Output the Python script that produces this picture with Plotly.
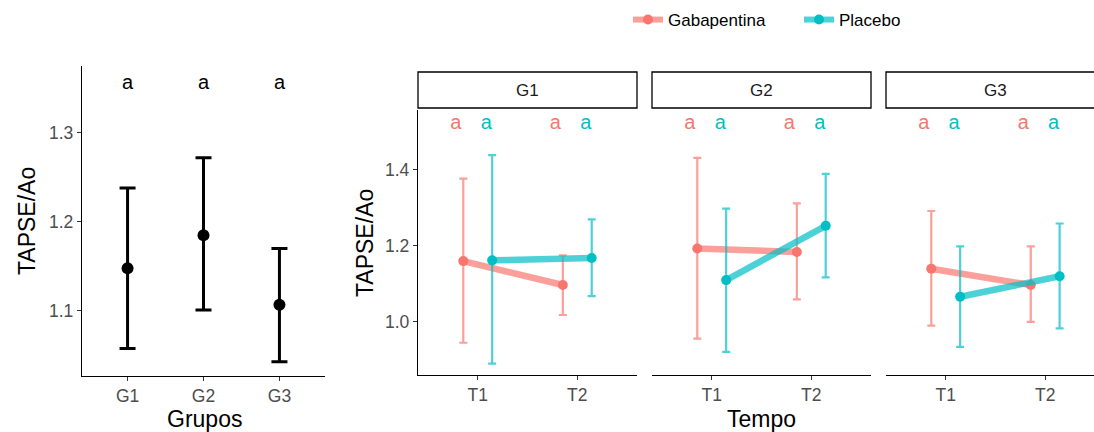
import plotly.graph_objects as go

# ---------------- data ----------------
groups = ["G1", "G2", "G3"]
overall_mean = [1.148, 1.185, 1.107]
overall_upper = [1.238, 1.272, 1.170]
overall_lower = [1.058, 1.101, 1.043]
overall_letters = ["a", "a", "a"]

times = ["T1", "T2"]
treatments = ["Gabapentina", "Placebo"]

# per group: [T1, T2]
gab_mean = {"G1": [1.160, 1.097], "G2": [1.193, 1.184], "G3": [1.140, 1.097]}
gab_upper = {"G1": [1.377, 1.175], "G2": [1.432, 1.312], "G3": [1.292, 1.199]}
gab_lower = {"G1": [0.945, 1.018], "G2": [0.956, 1.059], "G3": [0.990, 1.000]}

pla_mean = {"G1": [1.162, 1.168], "G2": [1.110, 1.253], "G3": [1.066, 1.120]}
pla_upper = {"G1": [1.439, 1.270], "G2": [1.298, 1.390], "G3": [1.199, 1.259]}
pla_lower = {"G1": [0.890, 1.068], "G2": [0.921, 1.117], "G3": [0.934, 0.983]}

gab_letters = {"G1": ["a", "a"], "G2": ["a", "a"], "G3": ["a", "a"]}
pla_letters = {"G1": ["a", "a"], "G2": ["a", "a"], "G3": ["a", "a"]}

# ---------------- style ----------------
FONT = "Liberation Sans, Arial, sans-serif"
RED = "#F8766D"
CYAN = "#00BFC4"
RED_A = "rgba(248,118,109,0.7)"
CYAN_A = "rgba(0,191,196,0.7)"
TICKC = "#4D4D4D"
W, H = 1094, 432
TICK_SIZE = 17.5
TITLE_SIZE = 23
LETTER_SIZE = 20

fig = go.Figure()

# ---------- left panel ----------
gx = list(range(1, len(groups) + 1))
fig.add_trace(go.Scatter(
    x=gx, y=overall_mean, mode="markers",
    marker=dict(color="black", size=12),
    error_y=dict(type="data", symmetric=False,
                 array=[u - m for u, m in zip(overall_upper, overall_mean)],
                 arrayminus=[m - l for m, l in zip(overall_mean, overall_lower)],
                 color="black", thickness=3, width=8),
    xaxis="x", yaxis="y", showlegend=False, hoverinfo="skip"))
fig.add_trace(go.Scatter(
    x=gx, y=[1.355] * len(groups), mode="text", text=overall_letters,
    textfont=dict(family=FONT, size=LETTER_SIZE, color="black"),
    xaxis="x", yaxis="y", showlegend=False, hoverinfo="skip"))

# ---------- facet panels ----------
dodge = 0.145
tx = [1, 2]
for i, g in enumerate(groups):
    xa = "x%d" % (i + 2)
    ya = "y%d" % (i + 2)
    for tr, means, up, lo, col, cola, off, letters, loff in [
        ("Gabapentina", gab_mean[g], gab_upper[g], gab_lower[g], RED, RED_A, -dodge, gab_letters[g], -0.22),
        ("Placebo", pla_mean[g], pla_upper[g], pla_lower[g], CYAN, CYAN_A, dodge, pla_letters[g], 0.085),
    ]:
        xs = [t + off for t in tx]
        fig.add_trace(go.Scatter(
            x=xs, y=means, mode="lines", line=dict(color=cola, width=6.5),
            xaxis=xa, yaxis=ya, showlegend=False, hoverinfo="skip"))
        fig.add_trace(go.Scatter(
            x=xs, y=means, mode="markers",
            marker=dict(color=col, size=10),
            error_y=dict(type="data", symmetric=False,
                         array=[u - m for u, m in zip(up, means)],
                         arrayminus=[m - l for m, l in zip(means, lo)],
                         color=cola, thickness=2.2, width=4),
            xaxis=xa, yaxis=ya, showlegend=False, hoverinfo="skip"))
        fig.add_trace(go.Scatter(
            x=[t + loff for t in tx], y=[1.522, 1.522], mode="text", text=letters,
            textfont=dict(family=FONT, size=LETTER_SIZE, color=col),
            xaxis=xa, yaxis=ya, showlegend=False, hoverinfo="skip"))

# legend entries
for tr, col, cola in [("Gabapentina", RED, RED_A), ("Placebo", CYAN, CYAN_A)]:
    fig.add_trace(go.Scatter(
        x=[None], y=[None], mode="lines+markers", name=tr,
        line=dict(color=cola, width=6), marker=dict(color=col, size=10),
        xaxis="x2", yaxis="y2", showlegend=True))

# ---------- axes ----------
def px_x(p):
    return p / W

def px_y(p):
    return 1 - p / H

axis_common = dict(showline=True, linecolor="black", linewidth=1.3,
                   ticks="outside", ticklen=4, tickcolor="#333333", tickwidth=1,
                   showgrid=False, zeroline=False,
                   tickfont=dict(family=FONT, size=TICK_SIZE, color=TICKC))

fig.update_layout(
    xaxis=dict(domain=[px_x(82), px_x(325)], range=[0.4, 3.6],
               tickvals=gx, ticktext=groups, anchor="y", **axis_common),
    yaxis=dict(domain=[px_y(376), px_y(66)], range=[1.027, 1.375],
               tickvals=[1.1, 1.2, 1.3], ticktext=["1.1", "1.2", "1.3"],
               anchor="x", **axis_common),
)

panel_px = [(418, 637), (652, 871), (886, 1094)]
y_dom = [px_y(375), px_y(110)]
for i, (a, b) in enumerate(panel_px):
    n = i + 2
    right = 2.6 if b - a >= 219 else 0.4 + (b - a) / 99.5
    fig.layout["xaxis%d" % n] = dict(domain=[px_x(a), min(px_x(b), 1.0)],
                                      range=[0.4, right], tickvals=tx, ticktext=times,
                                      anchor="y%d" % n, **axis_common)
    ydict = dict(domain=y_dom, range=[0.86, 1.558], anchor="x%d" % n,
                 tickvals=[1.0, 1.2, 1.4], ticktext=["1.0", "1.2", "1.4"],
                 **axis_common)
    if i > 0:
        ydict.update(showline=False, showticklabels=False, ticks="", matches="y2")
    fig.layout["yaxis%d" % n] = ydict
    fig.add_shape(type="rect", xref="paper", yref="paper",
                  x0=px_x(a), x1=min(px_x(b), 1.0) + (0.01 if b >= 1094 else 0),
                  y0=px_y(108), y1=px_y(72),
                  line=dict(color="black", width=1.3), fillcolor="white", layer="below")
    fig.add_annotation(x=(px_x(a) + px_x(a + 219)) / 2, y=px_y(90), xref="paper", yref="paper",
                       xanchor="center", yanchor="middle",
                       text=groups[i], showarrow=False,
                       font=dict(family=FONT, size=17, color="#1A1A1A"))

# axis titles
def title_ann(x, y, text, angle=0):
    fig.add_annotation(x=px_x(x), y=px_y(y), xref="paper", yref="paper", text=text,
                       textangle=angle, showarrow=False, xanchor="center", yanchor="middle",
                       font=dict(family=FONT, size=TITLE_SIZE, color="black"))

title_ann(27, 221, "TAPSE/Ao", -90)
title_ann(204, 419, "Grupos")
title_ann(365, 243, "TAPSE/Ao", -90)
title_ann(761, 419, "Tempo")

fig.update_layout(
    width=W, height=H,
    margin=dict(l=0, r=0, t=0, b=0),
    paper_bgcolor="white", plot_bgcolor="white",
    legend=dict(orientation="h", x=px_x(628), xanchor="left", y=px_y(20), yanchor="middle",
                font=dict(family=FONT, size=17, color="black"),
                entrywidth=126, entrywidthmode="pixels",
                bgcolor="rgba(0,0,0,0)", tracegroupgap=0),
    font=dict(family=FONT),
)

fig.write_html("out.html", config={"displayModeBar": False},
               post_script="document.body.style.margin='0';")
